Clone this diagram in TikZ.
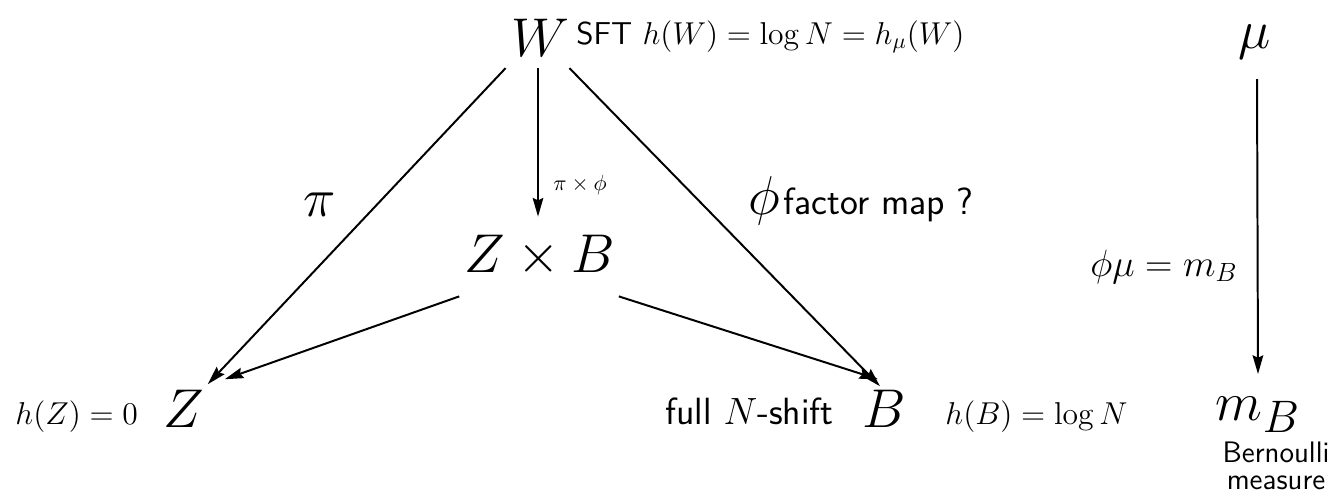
\documentclass[tikz,border=0pt]{standalone}
\usepackage{amsmath, amssymb}
\usepackage{tikz}
\usetikzlibrary{arrows.meta, calc}

\begin{document}
\begin{tikzpicture}[
    x=0.016cm, y=-0.016cm,
    big/.style={inner sep=0pt, font=\Huge},
    lbl/.style={inner sep=0pt, font=\Large},
    txt/.style={inner sep=0pt, font=\LARGE\sffamily},
    note/.style={inner sep=0pt, font=\fontsize{13.5}{16}\selectfont\sffamily},
    arr/.style={-{Stealth[length=3mm, width=1.7mm, inset=0.4mm]}, line width=0.9pt}
]
\useasboundingbox (0,0) rectangle (1328,495);
% spaces
\node[big] (W) at (540,38) {$W$};
\node[big] (ZB) at (540,256) {$Z\times B$};
\node[big, anchor=base] (Z) at (184,427) {$Z$};
\node[big, anchor=base] (B) at (884,427) {$B$};
% measures
\node[big, anchor=base] (mu) at (1255,48) {$\mu$};
\node[big, anchor=base] (mB) at (1258,420) {$m_B$};
\node[note, anchor=base] (bern) at (1276,462) {Bernoulli};
\node[note, anchor=base] (meas) at (1276,489) {measure};
% labels
\node[lbl, anchor=base west] (sft) at (576,44) {\textsf{SFT} $h(W)=\log N=h_\mu(W)$};
\node[lbl, anchor=base west] (hZ) at (15,424) {$h(Z)=0$};
\node[lbl, anchor=base west] (hB) at (945,424) {$h(B)=\log N$};
\node[txt, anchor=base east] (full) at (834,424) {full $N$-shift};
\node[big] (pi) at (320,205) {$\pi$};
\node[inner sep=0pt, anchor=base west] (pxf) at (553,190) {$\pi\times\phi$};
\node[big, anchor=base east] (phi) at (781,214) {$\phi$};
\node[txt, anchor=base west] (fm) at (783,214) {factor map ?};
\node[inner sep=0pt, font=\LARGE, anchor=base east] (pm) at (1238,276) {$\phi\mu=m_B$};
% maps
\draw[arr] ($(W.south west)+(-5,11)$) -- ($(Z.north east)+(3,-5)$);
\draw[arr] ($(W.south)+(-2,11)$) -- ($(ZB.north)+(-2,-18)$);
\draw[arr] ($(W.south east)+(0,11)$) -- ($(B.north)+(-4,-3)$);
\draw[arr] ($(ZB.south west)+(-5,19)$) -- ($(Z.north east)+(20,-10)$);
\draw[arr] ($(ZB.south east)+(3,19)$) -- ($(B.north)+(-6,-10)$);
\draw[arr] ($(mu.south)+(2,20)$) -- ($(mB.north)+(0,-22)$);
\end{tikzpicture}
\end{document}
